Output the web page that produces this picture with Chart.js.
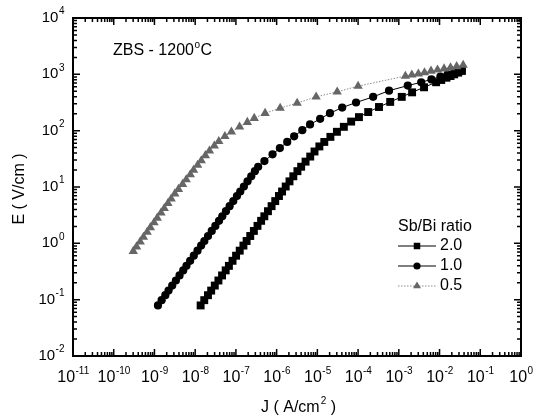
<!DOCTYPE html>
<html>
<head>
<meta charset="utf-8">
<script src="https://cdn.jsdelivr.net/npm/chart.js@4.4.1/dist/chart.umd.min.js"></script>
<style>
  html, body { margin: 0; padding: 0; background: #fff; }
</style>
</head>
<body>
<canvas id="c" width="540" height="419"></canvas>
<script>
'use strict';

// ── Data (J in A/cm², E in V/cm) ─────────────────────────────────
const J_20 = [1.36e-8, 1.67e-8, 2.06e-8, 2.47e-8, 3.03e-8, 3.72e-8, 4.57e-8, 5.61e-8, 6.73e-8, 8.26e-8,
  1.01e-7, 1.24e-7, 1.53e-7, 1.83e-7, 2.25e-7, 2.76e-7, 3.39e-7, 4.16e-7, 4.99e-7, 6.12e-7,
  7.52e-7, 9.24e-7, 1.14e-6, 1.36e-6, 1.67e-6, 2.07e-6, 2.57e-6, 3.24e-6, 4.00e-6, 5.13e-6,
  6.68e-6, 8.51e-6, 1.12e-5, 1.48e-5, 2.09e-5, 3.02e-5, 4.47e-5, 6.76e-5, 1.05e-4, 1.77e-4,
  3.26e-4, 6.14e-4, 1.18e-3, 2.12e-3, 4.16e-3, 8.24e-3, 1.10e-2, 1.48e-2, 1.86e-2, 2.29e-2,
  2.88e-2, 3.55e-2];
const E_20 = [0.079, 0.098, 0.12, 0.145, 0.178, 0.219, 0.269, 0.331, 0.398, 0.490,
  0.603, 0.741, 0.912, 1.10, 1.35, 1.66, 2.04, 2.51, 3.02, 3.72,
  4.57, 5.62, 6.92, 8.32, 10.2, 12.6, 15.5, 19.1, 22.9, 28.2,
  34.7, 42.7, 52.5, 63.1, 77.6, 95.5, 117, 145, 174, 214,
  263, 324, 398, 479, 589, 724, 794, 871, 933, 1000,
  1072, 1148];

const J_10 = [1.22e-9, 1.50e-9, 1.85e-9, 2.22e-9, 2.73e-9, 3.36e-9, 4.13e-9, 5.08e-9, 6.11e-9, 7.52e-9,
  9.25e-9, 1.14e-8, 1.40e-8, 1.68e-8, 2.07e-8, 2.55e-8, 3.13e-8, 3.85e-8, 4.63e-8, 5.70e-8,
  7.01e-8, 8.63e-8, 1.06e-7, 1.28e-7, 1.57e-7, 1.93e-7, 2.38e-7, 2.92e-7, 3.52e-7, 5.01e-7,
  7.94e-7, 1.20e-6, 1.82e-6, 2.69e-6, 4.27e-6, 6.61e-6, 1.17e-5, 2.04e-5, 4.07e-5, 8.91e-5,
  2.34e-4, 5.75e-4, 1.66e-3, 3.55e-3, 6.31e-3, 1.05e-2, 1.58e-2, 2.34e-2, 3.47e-2];
const E_10 = [0.079, 0.098, 0.12, 0.145, 0.178, 0.219, 0.269, 0.331, 0.398, 0.490,
  0.603, 0.741, 0.912, 1.10, 1.35, 1.66, 2.04, 2.51, 3.02, 3.72,
  4.57, 5.62, 6.92, 8.32, 10.2, 12.6, 15.5, 19.1, 22.9, 28.8,
  38.0, 49.0, 63.1, 79.4, 102, 129, 162, 204, 257, 316,
  398, 513, 631, 724, 813, 912, 1000, 1096, 1202];

const J_05 = [3.02e-10, 3.63e-10, 4.47e-10, 5.37e-10, 6.61e-10, 7.94e-10, 9.77e-10, 1.17e-9, 1.45e-9, 1.74e-9,
  2.14e-9, 2.57e-9, 3.16e-9, 3.89e-9, 4.90e-9, 6.03e-9, 7.59e-9, 9.12e-9, 1.15e-8, 1.41e-8,
  1.78e-8, 2.24e-8, 2.95e-8, 3.80e-8, 5.37e-8, 7.76e-8, 1.23e-7, 1.91e-7, 2.82e-7, 5.21e-7,
  1.22e-6, 3.19e-6, 9.33e-6, 3.07e-5, 1.0e-4, 1.45e-3, 2.09e-3, 3.02e-3, 4.27e-3, 6.17e-3,
  8.91e-3, 1.29e-2, 1.86e-2, 2.63e-2, 3.80e-2];
const E_05 = [0.724, 0.871, 1.07, 1.29, 1.58, 1.91, 2.34, 2.82, 3.47, 4.17,
  5.13, 6.17, 7.59, 9.12, 11.2, 13.5, 16.6, 20.0, 24.5, 29.5,
  36.3, 43.7, 53.7, 64.6, 79.4, 95.5, 117, 141, 166, 204,
  251, 309, 398, 490, 617, 933, 977, 1023, 1072, 1148,
  1202, 1259, 1318, 1380, 1462];

// ── Axis decades / tick labels ───────────────────────────────────
const X_EXP = [-11, -10, -9, -8, -7, -6, -5, -4, -3, -2, -1, 0];
const Y_EXP = [-2, -1, 0, 1, 2, 3, 4];
const SERIES_LABELS = ['2.0', '1.0', '0.5'];

const FONT = "'Liberation Sans', Arial, sans-serif";
const GREY = '#666666';

const pts = (xs, ys) => xs.map((x, i) => ({ x, y: ys[i] }));

// ── Helpers for drawing ──────────────────────────────────────────
function powLabel(ctx, x, y, exp, align, big, small) {
  ctx.font = big + 'px ' + FONT;
  const wb = ctx.measureText('10').width;
  ctx.font = small + 'px ' + FONT;
  const we = ctx.measureText(exp).width;
  const x0 = align === 'center' ? x - (wb + we) / 2 : x - wb - we;
  ctx.textAlign = 'left';
  ctx.textBaseline = 'middle';
  ctx.font = big + 'px ' + FONT;
  ctx.fillText('10', x0, y);
  ctx.font = small + 'px ' + FONT;
  ctx.fillText(exp, x0 + wb + 0.5, y - big * 0.42);
}

function marker(ctx, style, r, x, y, color) {
  ctx.save();
  ctx.fillStyle = color;
  ctx.strokeStyle = color;
  Chart.helpers.drawPoint(ctx, { pointStyle: style, radius: r, rotation: 0, borderWidth: 0 }, x, y);
  ctx.restore();
}

// ── Frame, ticks and texts ───────────────────────────────────────
const decor = {
  id: 'decor',
  afterDraw(chart) {
    const { ctx, chartArea: a, scales: { x, y } } = chart;
    ctx.save();
    ctx.strokeStyle = '#000';
    ctx.fillStyle = '#000';

    // ticks, inward on all four sides
    ctx.lineWidth = 1.5;
    ctx.beginPath();
    X_EXP.forEach(e => {
      for (let m = 1; m <= 9; m++) {
        const v = m * Math.pow(10, e);
        if (v > x.max * 1.0001) break;
        const px = x.getPixelForValue(v);
        const L = m === 1 ? 7 : 4;
        ctx.moveTo(px, a.bottom); ctx.lineTo(px, a.bottom - L);
        ctx.moveTo(px, a.top); ctx.lineTo(px, a.top + L);
      }
    });
    Y_EXP.forEach(e => {
      for (let m = 1; m <= 9; m++) {
        const v = m * Math.pow(10, e);
        if (v > y.max * 1.0001) break;
        const py = y.getPixelForValue(v);
        const L = m === 1 ? 7 : 4;
        ctx.moveTo(a.left, py); ctx.lineTo(a.left + L, py);
        ctx.moveTo(a.right, py); ctx.lineTo(a.right - L, py);
      }
    });
    ctx.stroke();

    // frame
    ctx.lineWidth = 2;
    ctx.strokeRect(a.left, a.top, a.right - a.left, a.bottom - a.top);

    // tick labels
    X_EXP.forEach(e => powLabel(ctx, x.getPixelForValue(Math.pow(10, e)), a.bottom + 22, String(e), 'center', 16, 10));
    Y_EXP.forEach(e => powLabel(ctx, a.left - 9, y.getPixelForValue(Math.pow(10, e)), String(e), 'right', 15, 10));

    // axis titles
    ctx.font = '16px ' + FONT;
    ctx.textBaseline = 'middle';
    ctx.save();
    ctx.translate(20, 189);
    ctx.rotate(-Math.PI / 2);
    ctx.textAlign = 'center';
    ctx.fillText('E ( V/cm )', 0, 0);
    ctx.restore();

    ctx.textAlign = 'left';
    const t1 = 'J ( A/cm', t2 = ' )';
    const w1 = ctx.measureText(t1).width;
    const w2 = ctx.measureText(t2).width;
    ctx.font = '10px ' + FONT;
    const ws = ctx.measureText('2').width;
    let tx = 298 - (w1 + ws + w2) / 2;
    ctx.font = '16px ' + FONT;
    ctx.fillText(t1, tx, 408);
    ctx.font = '10px ' + FONT;
    ctx.fillText('2', tx + w1 + 1, 401);
    ctx.font = '16px ' + FONT;
    ctx.fillText(t2, tx + w1 + ws + 1, 408);

    // in-plot title
    ctx.font = '16px ' + FONT;
    const tt = 'ZBS - 1200';
    const wt = ctx.measureText(tt).width;
    ctx.fillText(tt, 113, 51);
    ctx.font = '10px ' + FONT;
    ctx.fillText('o', 113 + wt + 0.5, 45);
    const wo = ctx.measureText('o').width;
    ctx.font = '16px ' + FONT;
    ctx.fillText('C', 113 + wt + wo + 1, 51);

    // legend
    ctx.fillText('Sb/Bi ratio', 398, 227);
    const styles = [
      { s: 'rect', r: 4.6, c: '#000', dash: [] },
      { s: 'circle', r: 3.6, c: '#000', dash: [] },
      { s: 'triangle', r: 4.6, c: GREY, dash: [1.5, 1.5] }
    ];
    SERIES_LABELS.forEach((lab, i) => {
      const ly = 246 + i * 20;
      const st = styles[i];
      ctx.save();
      ctx.strokeStyle = i === 2 ? '#8a8a8a' : '#000';
      ctx.lineWidth = 1;
      ctx.setLineDash(st.dash);
      ctx.beginPath();
      ctx.moveTo(398, ly); ctx.lineTo(436, ly);
      ctx.stroke();
      ctx.restore();
      marker(ctx, st.s, st.r, 417, ly, st.c);
      ctx.fillStyle = '#000';
      ctx.font = '16px ' + FONT;
      ctx.textAlign = 'left';
      ctx.textBaseline = 'middle';
      ctx.fillText(lab, 440, ly);
    });

    ctx.restore();
  }
};

// ── Chart ────────────────────────────────────────────────────────
new Chart(document.getElementById('c'), {
  type: 'scatter',
  data: {
    datasets: [
      {
        label: SERIES_LABELS[2], data: pts(J_05, E_05), showLine: true,
        borderColor: '#8a8a8a', borderWidth: 1, borderDash: [1.5, 1.5],
        pointStyle: 'triangle', pointRadius: 5.4, pointBackgroundColor: GREY,
        pointBorderWidth: 0
      },
      {
        label: SERIES_LABELS[1], data: pts(J_10, E_10), showLine: true,
        borderColor: '#000', borderWidth: 1,
        pointStyle: 'circle', pointRadius: 4.1, pointBackgroundColor: '#000',
        pointBorderWidth: 0
      },
      {
        label: SERIES_LABELS[0], data: pts(J_20, E_20), showLine: true,
        borderColor: '#000', borderWidth: 1,
        pointStyle: 'rect', pointRadius: 5.6, pointBackgroundColor: '#000',
        pointBorderWidth: 0
      }
    ]
  },
  options: {
    responsive: false,
    animation: false,
    devicePixelRatio: 1,
    layout: { padding: { top: 18, right: 19, left: 0, bottom: 0 } },
    plugins: { legend: { display: false }, tooltip: { enabled: false } },
    scales: {
      x: {
        type: 'logarithmic', min: 1e-11, max: 1,
        ticks: { display: false }, grid: { display: false }, border: { display: false },
        afterFit: s => { s.height = 63; }
      },
      y: {
        type: 'logarithmic', min: 1e-2, max: 1e4,
        ticks: { display: false }, grid: { display: false }, border: { display: false },
        afterFit: s => { s.width = 73; }
      }
    }
  },
  plugins: [decor]
});
</script>
</body>
</html>
